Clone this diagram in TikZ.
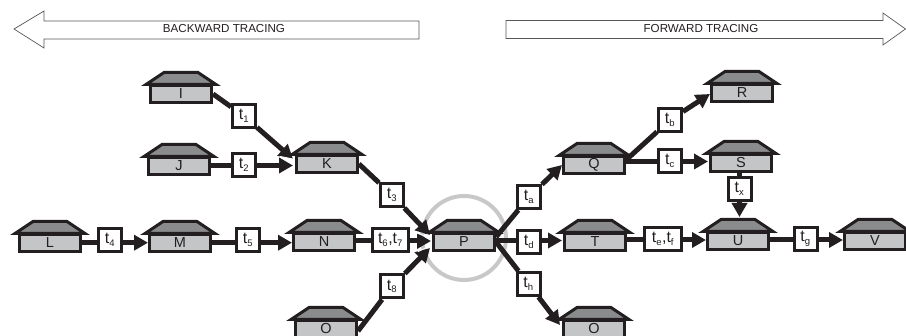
\documentclass[tikz,border=0pt]{standalone}
\usepackage{fontspec}
\setmainfont{Liberation Sans}
\usetikzlibrary{arrows.meta}
\definecolor{ink}{HTML}{231F20}
\definecolor{bodyfill}{HTML}{C4C5C7}
\definecolor{rooffill}{HTML}{8A8B8D}
\definecolor{ringgray}{HTML}{C8C8C8}
\tikzset{
  housebody/.style={draw=ink,fill=bodyfill,line width=3pt,minimum width=61pt,minimum height=17pt,inner sep=0pt,text=ink,font=\fontsize{14.5}{14.5}\selectfont},
  roofshape/.style={draw=ink,fill=rooffill,line width=3pt,line join=miter,miter limit=10},
  tbox/.style={draw=ink,fill=white,line width=3pt,minimum width=23pt,minimum height=23pt,inner sep=0pt,text=ink,font=\fontsize{16}{16}\selectfont},
  link/.style={draw=ink,line width=5pt},
  linkarrow/.style={link,-{Triangle[length=14pt,width=15pt]}},
  bigarrow/.style={draw=ink!75,line width=.7pt,fill=white},
  bigtext/.style={text=ink,font=\fontsize{11.6}{12}\selectfont,inner sep=0pt},
  sliver/.style={draw=white,line width=.8pt},
}
\newcommand{\tsub}[1]{t\textsubscript{\fontsize{9.5}{9.5}\selectfont #1}}
\newcommand{\house}[4]{%
  \draw[roofshape] (#2-35,#3-9.5) -- (#2-17,#3-21.5) -- (#2+17,#3-21.5) -- (#2+35,#3-9.5) -- cycle;
  \node[housebody] (#1) at (#2,#3) {#4};}
\begin{document}
\begin{tikzpicture}[x=1pt,y=-1pt]
\useasboundingbox (0,0) rectangle (906,336);
\clip (0,0) rectangle (906,336);
% tracing arrows
\draw[bigarrow] (14,29) -- (44,11) -- (44,21) -- (419,21) -- (419,39) -- (44,39) -- (44,48) -- cycle;
\node[bigtext] (back) at (224,29) {BACKWARD TRACING};
\draw[bigarrow] (905.5,29) -- (883,13) -- (883,20.5) -- (506,20.5) -- (506,38.5) -- (883,38.5) -- (883,45) -- cycle;
\node[bigtext] (fwd) at (701,29) {FORWARD TRACING};
% ring
\node[draw=ringgray,line width=4pt,circle,minimum size=84pt,inner sep=0pt] (ring) at (464,238) {};
% houses
\house{I}{181}{94}{I}
\house{J}{179}{166}{J}
\house{K}{327}{164}{K}
\house{L}{50}{243}{L}
\house{M}{180}{243}{M}
\house{N}{324}{242}{N}
\house{P}{464}{242}{P}
\house{Ob}{326}{329}{O}
\house{Q}{594}{165}{Q}
\house{R}{742}{93}{R}
\house{S}{741}{163}{S}
\house{T}{595}{242}{T}
\house{U}{738}{241}{U}
\house{V}{875}{241}{V}
\house{Of}{594}{329}{O}
% connector ends
\coordinate (Kup) at (293,159);
\coordinate (Kmid) at (293,165.5);
\coordinate (Pup) at (430,235);
\coordinate (Pmid) at (431,241);
\coordinate (Plow) at (430,248);
\coordinate (Qout) at (626,160);
\coordinate (Pr) at (496,237);
\coordinate (Pd) at (496,240.5);
\coordinate (Tin) at (562,240.5);
\coordinate (Ofin) at (560,325);
\coordinate (Obout) at (358,331);
\coordinate (Kout) at (359,164);
\coordinate (Utop) at (739,217);
\coordinate (Sin) at (708,161.5);
\coordinate (Rin) at (710,94);
\coordinate (Ltrunk) at (82,242.7);
\coordinate (Mtrunk) at (212,242.7);
\coordinate (Ttrunk) at (627,240);
\coordinate (Utrunk) at (770,240);
% labels
\node[tbox] (t1) at (244,116) {\tsub{1}};
\node[tbox] (t2) at (244,165) {\tsub{2}};
\node[tbox] (t3) at (392,195) {\tsub{3}};
\node[tbox] (t4) at (110,240) {\tsub{4}};
\node[tbox] (t5) at (248,240) {\tsub{5}};
\node[tbox,minimum width=36pt] (t67) at (390.5,240) {\tsub{6},\tsub{7}};
\node[tbox] (t8) at (392,286.5) {\tsub{8}};
\node[tbox] (ta) at (529,197) {\tsub{a}};
\node[tbox] (tb) at (670,120) {\tsub{b}};
\node[tbox] (tc) at (670,161) {\tsub{c}};
\node[tbox] (td) at (529,242) {\tsub{d}};
\node[tbox,minimum width=37pt] (tef) at (663,239) {\tsub{e},\tsub{f}};
\node[tbox] (tg) at (805.5,239) {\tsub{g}};
\node[tbox] (th) at (528.5,284) {\tsub{h}};
\node[tbox] (tx) at (739.5,189) {\tsub{x}};
% connectors
\draw[link] (I.east) -- (t1);
\draw[linkarrow] (t1) -- (Kup);
\draw[link] (J.east |- Kmid) -- (Kmid -| t2.west);
\draw[linkarrow] (t2.east |- Kmid) -- (Kmid);
\draw[link] (Kout) -- (t3);
\draw[linkarrow] (t3) -- (Pup);
\draw[link] (Ltrunk) -- (Ltrunk -| t4.west);
\draw[linkarrow] (t4.east |- Ltrunk) -- (M.west |- Ltrunk);
\draw[link] (Mtrunk) -- (Mtrunk -| t5.west);
\draw[linkarrow] (t5.east |- Mtrunk) -- (N.west |- Mtrunk);
\draw[link] (N.east |- Pmid) -- (Pmid -| t67.west);
\draw[linkarrow] (t67.east |- Pmid) -- (Pmid);
\draw[link] (Obout) -- (t8);
\draw[linkarrow] (t8) -- (Plow);
\draw[link] (Pr) -- (ta);
\draw[linkarrow] (ta) -- (Q.west);
\draw[link] (Pd) -- (Pd -| td.west);
\draw[linkarrow] (td.east |- Tin) -- (Tin);
\draw[link] (P.east) -- (th);
\draw[linkarrow] (th) -- (Ofin);
\draw[link] (Qout) -- (tb);
\draw[linkarrow] (tb) -- (Rin);
\draw[link] (Qout |- Sin) -- (Sin -| tc.west);
\draw[linkarrow] (tc.east |- Sin) -- (Sin);
\draw[link] (S.south -| tx.north) -- (tx.north);
\draw[linkarrow] (tx.south) -- (Utop -| tx.south);
\draw[link] (Ttrunk) -- (Ttrunk -| tef.west);
\draw[linkarrow] (tef.east |- Ttrunk) -- (U.west |- Ttrunk);
\draw[link] (Utrunk) -- (Utrunk -| tg.west);
\draw[linkarrow] (tg.east |- Utrunk) -- (V.west |- Utrunk);
% white slivers between overlapping arrowheads
\draw[sliver] (Kup) -- +(-13,-2.6);
\draw[sliver] (Pup) ++(1.5,3) -- +(-15,-5);
\draw[sliver] (Plow) ++(1.5,-3) -- +(-13.5,6.7);
\end{tikzpicture}
\end{document}
